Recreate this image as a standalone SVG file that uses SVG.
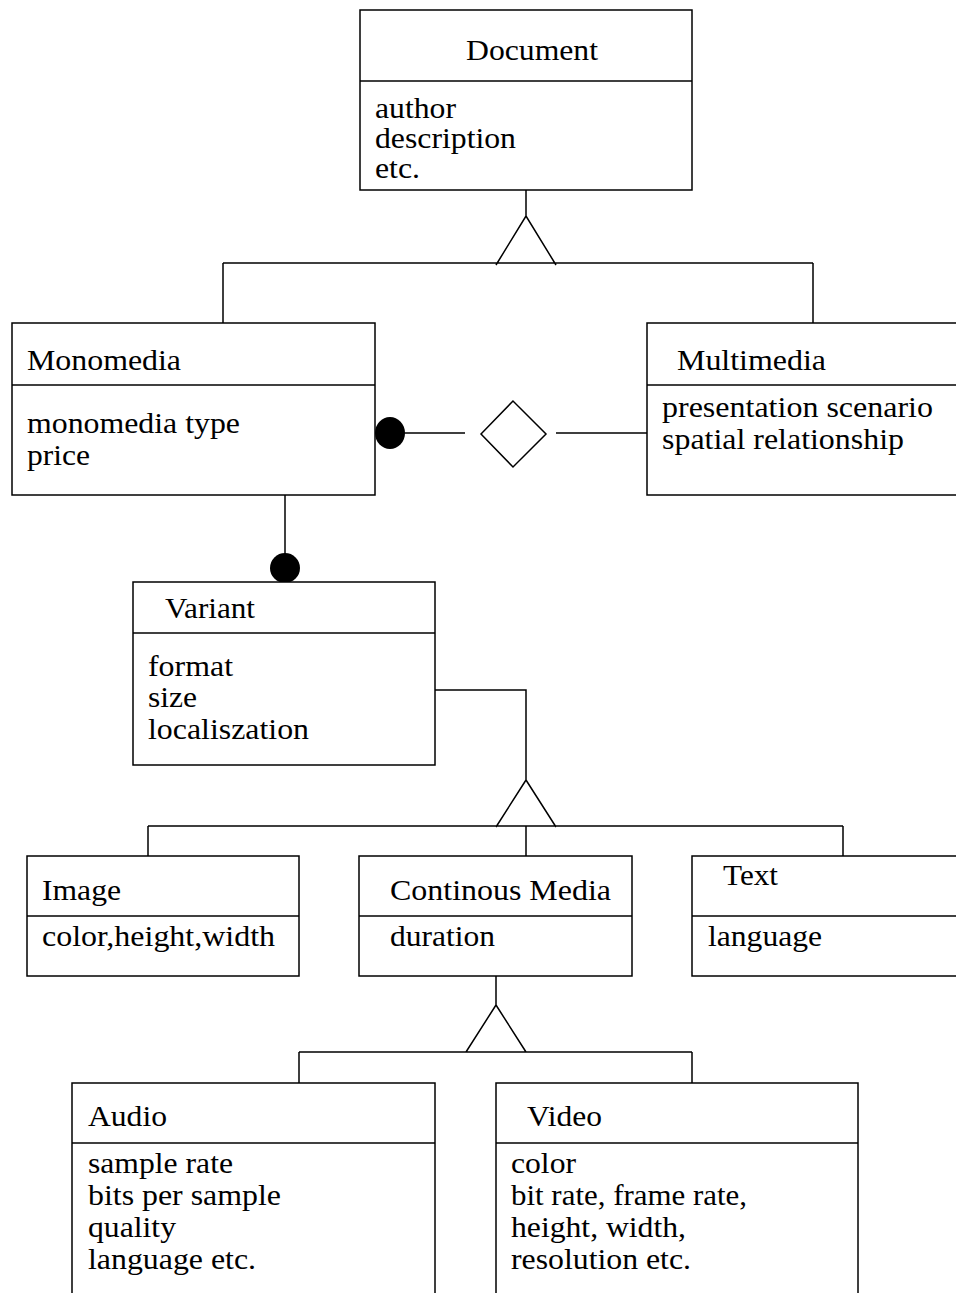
<svg xmlns="http://www.w3.org/2000/svg" width="956" height="1293" viewBox="0 0 956 1293">
<style>
.box{fill:#fff;stroke:#000;stroke-width:1.5}
.ln{fill:none;stroke:#000;stroke-width:1.5}
text{font-family:"Liberation Serif","Times New Roman",serif;font-size:30px;fill:#000}
</style>
<rect width="956" height="1293" fill="#fff"/>
<g id="connectors">
  <path class="ln" d="M526,190 V216 M496,265 L526,216 L556,265 M223,263 H813 M223,263 V325 M813,263 V325"/>
  <ellipse cx="390" cy="433" rx="15" ry="16" fill="#000"/>
  <path class="ln" d="M405,433 H465 M556,433 H647"/>
  <polygon class="ln" points="481,434 513,401 546,434 513,467" fill="#fff"/>
  <path class="ln" d="M285,492 V555"/>
  <circle cx="285" cy="568" r="15" fill="#000"/>
  <path class="ln" d="M435,690 H526 V780 M496,827 L526,780 L556,827 M148,826 H843 M148,826 V856 M526,826 V856 M843,826 V856"/>
  <path class="ln" d="M496,976 V1005 M466,1052 L496,1005 L526,1052 M299,1052 H692 M299,1052 V1083 M692,1052 V1083"/>
</g>
<g id="document">
  <rect class="box" x="360" y="10" width="332" height="180"/>
  <line class="ln" x1="360" y1="81" x2="692" y2="81"/>
  <text x="466" y="60" textLength="132" lengthAdjust="spacingAndGlyphs">Document</text>
  <text x="375" y="118" textLength="81" lengthAdjust="spacingAndGlyphs">author</text>
  <text x="375" y="148" textLength="141" lengthAdjust="spacingAndGlyphs">description</text>
  <text x="375" y="178" textLength="45" lengthAdjust="spacingAndGlyphs">etc.</text>
</g>
<g id="monomedia">
  <rect class="box" x="12" y="323" width="363" height="172"/>
  <line class="ln" x1="12" y1="385" x2="375" y2="385"/>
  <text x="27" y="370" textLength="154" lengthAdjust="spacingAndGlyphs">Monomedia</text>
  <text x="27" y="433" textLength="213" lengthAdjust="spacingAndGlyphs">monomedia type</text>
  <text x="27" y="465" textLength="63" lengthAdjust="spacingAndGlyphs">price</text>
</g>
<g id="multimedia">
  <rect class="box" x="647" y="323" width="320" height="172"/>
  <line class="ln" x1="647" y1="385" x2="967" y2="385"/>
  <text x="677" y="370" textLength="149" lengthAdjust="spacingAndGlyphs">Multimedia</text>
  <text x="662" y="417" textLength="271" lengthAdjust="spacingAndGlyphs">presentation scenario</text>
  <text x="662" y="449" textLength="242" lengthAdjust="spacingAndGlyphs">spatial relationship</text>
</g>
<g id="variant">
  <rect class="box" x="133" y="582" width="302" height="183"/>
  <line class="ln" x1="133" y1="633" x2="435" y2="633"/>
  <text x="165" y="618" textLength="90" lengthAdjust="spacingAndGlyphs">Variant</text>
  <text x="148" y="676" textLength="85" lengthAdjust="spacingAndGlyphs">format</text>
  <text x="148" y="707" textLength="49" lengthAdjust="spacingAndGlyphs">size</text>
  <text x="148" y="739" textLength="161" lengthAdjust="spacingAndGlyphs">localiszation</text>
</g>
<g id="image">
  <rect class="box" x="27" y="856" width="272" height="120"/>
  <line class="ln" x1="27" y1="916" x2="299" y2="916"/>
  <text x="42" y="900" textLength="79" lengthAdjust="spacingAndGlyphs">Image</text>
  <text x="42" y="946" textLength="233" lengthAdjust="spacingAndGlyphs">color,height,width</text>
</g>
<g id="continuous-media">
  <rect class="box" x="359" y="856" width="273" height="120"/>
  <line class="ln" x1="359" y1="916" x2="632" y2="916"/>
  <text x="390" y="900" textLength="221" lengthAdjust="spacingAndGlyphs">Continous Media</text>
  <text x="390" y="946" textLength="105" lengthAdjust="spacingAndGlyphs">duration</text>
</g>
<g id="text">
  <rect class="box" x="692" y="856" width="275" height="120"/>
  <line class="ln" x1="692" y1="916" x2="967" y2="916"/>
  <text x="723" y="885" textLength="55" lengthAdjust="spacingAndGlyphs">Text</text>
  <text x="708" y="946" textLength="114" lengthAdjust="spacingAndGlyphs">language</text>
</g>
<g id="audio">
  <rect class="box" x="72" y="1083" width="363" height="230"/>
  <line class="ln" x1="72" y1="1143" x2="435" y2="1143"/>
  <text x="88" y="1126" textLength="79" lengthAdjust="spacingAndGlyphs">Audio</text>
  <text x="88" y="1173" textLength="145" lengthAdjust="spacingAndGlyphs">sample rate</text>
  <text x="88" y="1205" textLength="193" lengthAdjust="spacingAndGlyphs">bits per sample</text>
  <text x="88" y="1237" textLength="88" lengthAdjust="spacingAndGlyphs">quality</text>
  <text x="88" y="1269" textLength="168" lengthAdjust="spacingAndGlyphs">language etc.</text>
</g>
<g id="video">
  <rect class="box" x="496" y="1083" width="362" height="230"/>
  <line class="ln" x1="496" y1="1143" x2="858" y2="1143"/>
  <text x="527" y="1126" textLength="75" lengthAdjust="spacingAndGlyphs">Video</text>
  <text x="511" y="1173" textLength="65" lengthAdjust="spacingAndGlyphs">color</text>
  <text x="511" y="1205" textLength="236" lengthAdjust="spacingAndGlyphs">bit rate, frame rate,</text>
  <text x="511" y="1237" textLength="175" lengthAdjust="spacingAndGlyphs">height, width,</text>
  <text x="511" y="1269" textLength="180" lengthAdjust="spacingAndGlyphs">resolution etc.</text>
</g>
</svg>
